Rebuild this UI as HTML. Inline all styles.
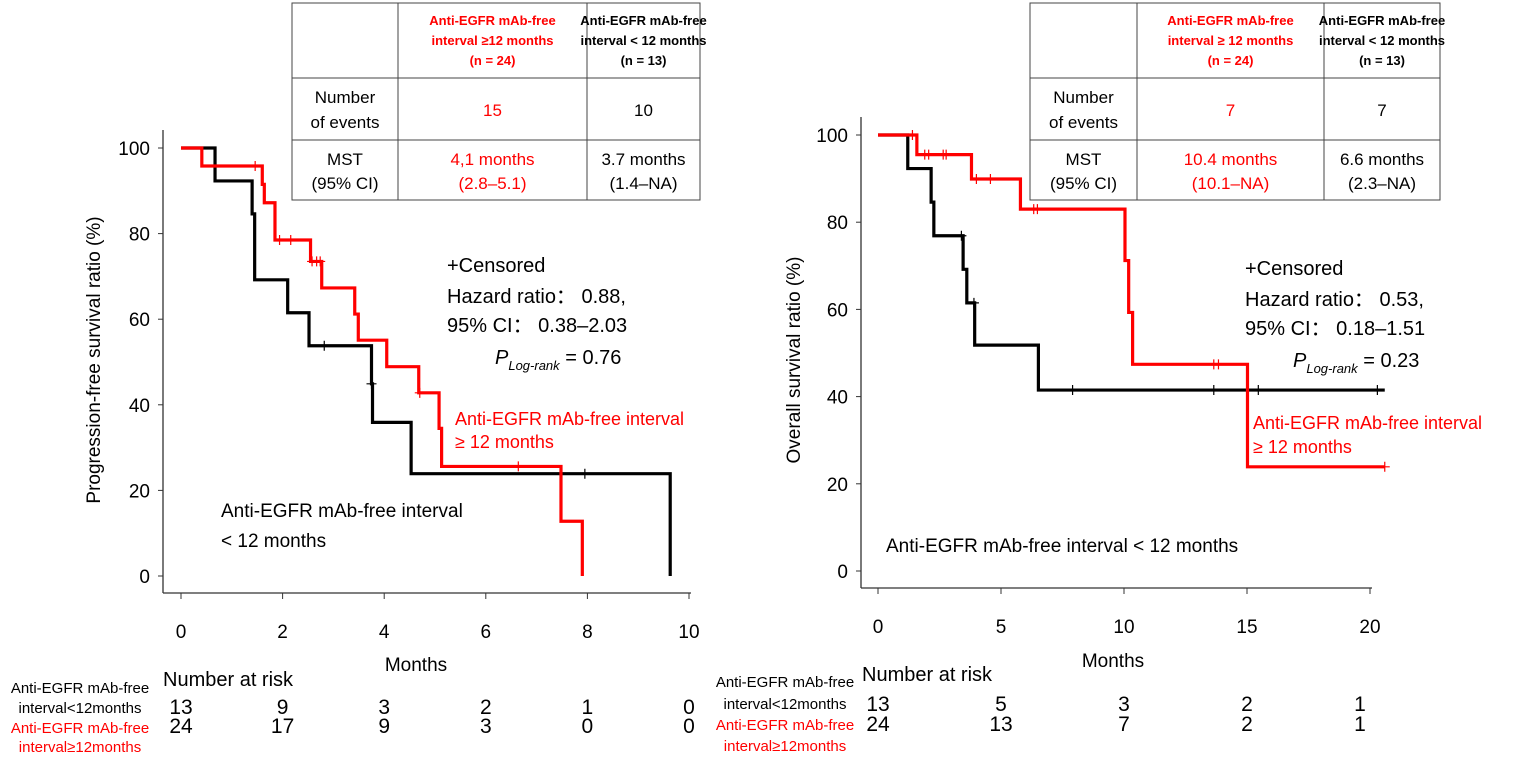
<!DOCTYPE html>
<html><head><meta charset="utf-8"><style>
body{margin:0;background:#fff;width:1524px;height:761px;overflow:hidden;font-family:"Liberation Sans",sans-serif}
svg text{font-family:"Liberation Sans",sans-serif}
</style></head><body>
<svg id="c" width="1524" height="761" xmlns="http://www.w3.org/2000/svg"></svg>
<script>
// ---- Left panel (PFS) data ----
const pfsBlackT=[0,0.67,1.40,1.45,2.10,2.52,3.75,3.77,4.53,9.63];
const pfsBlackS=[100,92.3,84.6,69.2,61.5,53.8,44.9,35.9,23.9,0];
const pfsBlackCensT=[2.82,3.75,7.95];
const pfsRedT=[0,0.41,1.60,1.64,1.85,2.55,2.77,3.42,3.49,4.05,4.68,5.08,5.13,7.48,7.90];
const pfsRedS=[100,95.8,91.5,87.2,78.5,73.5,67.3,61.2,55.1,48.9,42.8,34.5,25.6,12.8,0];
const pfsRedCensT=[1.46,1.94,2.16,2.58,2.67,2.74,4.70,6.64];
const pfsTicksX=[0,2,4,6,8,10];
const ticksY=[0,20,40,60,80,100];
const pfsRiskBlack=[13,9,3,2,1,0];
const pfsRiskRed=[24,17,9,3,0,0];
// ---- Right panel (OS) data ----
const osBlackT=[0,1.21,2.16,2.27,3.46,3.61,3.93,6.52,20.6];
const osBlackS=[100,92.3,84.6,76.9,69.2,61.5,51.8,41.5,41.5];
const osBlackCensT=[3.39,3.90,7.91,13.65,15.46,20.3];
const osRedT=[0,1.58,3.80,5.79,10.04,10.19,10.35,15.02,20.6];
const osRedS=[100,95.5,89.9,83.0,71.2,59.3,47.4,23.9,23.9];
const osRedCensT=[1.40,1.90,2.06,2.65,2.77,4.0,4.57,6.33,6.48,13.65,13.84,20.6];
const osTicksX=[0,5,10,15,20];
const osRiskBlack=[13,5,3,2,1];
const osRiskRed=[24,13,7,2,1];

const svg=document.getElementById('c');
const NS='http://www.w3.org/2000/svg';
function mk(tag,attrs,txt){const e=document.createElementNS(NS,tag);for(const k in attrs)e.setAttribute(k,attrs[k]);if(txt!==undefined)e.textContent=txt;svg.appendChild(e);return e;}
function txt(x,y,s,size,fill,name,anchor,extra){const e=mk('text',Object.assign({x:x,y:y,'font-size':size,fill:fill||'#000','text-anchor':anchor||'start'},extra||{}),s);


return e;}
function survAt(T,S,t){let v=S[0];for(let i=0;i<T.length;i++){if(T[i]<=t+1e-9)v=S[i];}return v;}

function panel(p){
  const X=t=>p.x0+t*p.xs, Y=s=>p.y0-s*(p.y0-p.y100)/100;
  let a=mk('line',{x1:p.ax,y1:p.y100-18,x2:p.ax,y2:p.axy,stroke:'#333','stroke-width':1.3});
  
  
  a=mk('line',{x1:p.ax,y1:p.axy,x2:X(p.ticksX[p.ticksX.length-1])+2,y2:p.axy,stroke:'#333','stroke-width':1.3});
  
  
  ticksY.forEach(v=>{const t=mk('line',{x1:p.ax-5,y1:Y(v),x2:p.ax,y2:Y(v),stroke:'#333'});
    
    
    txt(p.ax-13,Y(v)+7,String(v),19,'#000','y-tick-label','end');});
  p.ticksX.forEach(v=>{const t=mk('line',{x1:X(v),y1:p.axy,x2:X(v),y2:p.axy+6,stroke:'#333'});
    
    
    txt(X(v),p.axy+45,String(v),19,'#000','x-tick-label','middle');});
  function curve(T,S,C,col,name){
    let d='M'+X(T[0])+','+Y(S[0]);
    for(let i=1;i<T.length;i++){d+=' H'+X(T[i])+' V'+Y(S[i]);}
    const e=mk('path',{d:d,fill:'none',stroke:col,'stroke-width':3.2});
    
    
    C.forEach(t=>{const s=survAt(T,S,t);const m=mk('path',{d:'M'+(X(t)-5)+','+Y(s)+' h10 M'+X(t)+','+(Y(s)-5)+' v10',stroke:col,'stroke-width':1.2});
      
      });
  }
  curve(p.bT,p.bS,p.bC,'#000',p.id+'-curve-lt12');
  curve(p.rT,p.rS,p.rC,'#f00',p.id+'-curve-ge12');
}

panel({id:'pfs',x0:181,xs:50.8,y0:576,y100:148,ax:163,axy:593,ticksX:pfsTicksX,bT:pfsBlackT,bS:pfsBlackS,bC:pfsBlackCensT,rT:pfsRedT,rS:pfsRedS,rC:pfsRedCensT});
panel({id:'os',x0:878,xs:24.6,y0:571,y100:135,ax:861,axy:588,ticksX:osTicksX,bT:osBlackT,bS:osBlackS,bC:osBlackCensT,rT:osRedT,rS:osRedS,rC:osRedCensT});

txt(0,0,'Progression-free survival ratio (%)',19,'#000','y-axis-title-pfs','middle',{transform:'translate(100,360) rotate(-90)'});
txt(0,0,'Overall survival ratio (%)',19,'#000','y-axis-title-os','middle',{transform:'translate(800,360) rotate(-90)'});
txt(416,671,'Months',19,'#000','x-axis-title-pfs','middle');
txt(1113,667,'Months',19,'#000','x-axis-title-os','middle');

function stats(x,y,hr,ci,p,name){
  txt(x,y,'+Censored',20,'#000',name+'-censored-note');
  txt(x,y+31,'Hazard ratio\uFF1A '+hr,20,'#000',name+'-hazard-ratio');
  txt(x,y+60,'95% CI\uFF1A '+ci,20,'#000',name+'-ci');
  const t=txt(x+48,y+92,'',20,'#000',name+'-p-value');
  const a=document.createElementNS(NS,'tspan');a.setAttribute('font-style','italic');a.textContent='P';t.appendChild(a);
  const b=document.createElementNS(NS,'tspan');b.setAttribute('font-style','italic');b.setAttribute('font-size','13');b.setAttribute('dy','6');b.textContent='Log-rank';t.appendChild(b);
  const c=document.createElementNS(NS,'tspan');c.setAttribute('dy','-6');c.textContent=' = '+p;t.appendChild(c);
}
stats(447,272,'0.88,','0.38\u20132.03','0.76','pfs');
stats(1245,275,'0.53,','0.18\u20131.51','0.23','os');

txt(455,425,'Anti-EGFR  mAb-free  interval',18,'#f00','pfs-label-ge12');
txt(455,448,'\u2265 12 months',18,'#f00','pfs-label-ge12-line2');
txt(221,517,'Anti-EGFR mAb-free interval',19,'#000','pfs-label-lt12');
txt(221,547,'< 12 months',19,'#000','pfs-label-lt12-line2');
txt(1253,429,'Anti-EGFR  mAb-free  interval',18,'#f00','os-label-ge12');
txt(1253,453,'\u2265 12 months',18,'#f00','os-label-ge12-line2');
txt(886,552,'Anti-EGFR mAb-free interval < 12 months',19,'#000','os-label-lt12');

function table(x,cols,name,ev1,ev2,m1,c1,m2,c2){
  const top=3,r1=78,r2=140,bot=200;
  const w=cols[cols.length-1]-x;
  const g=mk('rect',{x:x,y:top,width:w,height:bot-top,fill:'#fff',stroke:'#444','stroke-width':1});
  
  
  [r1,r2].forEach(y=>{const l=mk('line',{x1:x,y1:y,x2:x+w,y2:y,stroke:'#444'});});
  cols.slice(0,-1).forEach(c=>{const l=mk('line',{x1:c,y1:top,x2:c,y2:bot,stroke:'#444'});});
  const cx1=(cols[0]+cols[1])/2,cx2=(cols[1]+cols[2])/2,cx0=(x+cols[0])/2;
  [['Anti-EGFR mAb-free',25],['interval '+(name.startsWith('os')?'\u2265 ':'\u2265')+'12 months',45],['(n = 24)',65]].forEach(a=>txt(cx1,a[1],a[0],13,'#f00','table-header-ge12','middle',{'font-weight':'bold'}));
  [['Anti-EGFR mAb-free',25],['interval < 12 months',45],['(n = 13)',65]].forEach(a=>txt(cx2,a[1],a[0],13,'#000','table-header-lt12','middle',{'font-weight':'bold'}));
  txt(cx0,103,'Number',17,'#000','table-row-label-events','middle');
  txt(cx0,128,'of events',17,'#000','table-row-label-events','middle');
  txt(cx1,116,ev1,17,'#f00','table-events-ge12','middle');
  txt(cx2,116,ev2,17,'#000','table-events-lt12','middle');
  txt(cx0,165,'MST',17,'#000','table-row-label-mst','middle');
  txt(cx0,189,'(95% CI)',17,'#000','table-row-label-mst','middle');
  txt(cx1,165,m1,17,'#f00','table-mst-ge12','middle');
  txt(cx1,189,c1,17,'#f00','table-ci-ge12','middle');
  txt(cx2,165,m2,17,'#000','table-mst-lt12','middle');
  txt(cx2,189,c2,17,'#000','table-ci-lt12','middle');
}
table(292,[398,587,700],'pfs-summary-table','15','10','4,1 months','(2.8\u20135.1)','3.7 months','(1.4\u2013NA)');
table(1030,[1137,1324,1440],'os-summary-table','7','7','10.4 months','(10.1\u2013NA)','6.6 months','(2.3\u2013NA)');

txt(163,686,'Number at risk',20,'#000','pfs-number-at-risk-title');
txt(862,681,'Number at risk',20,'#000','os-number-at-risk-title');
function lab(x,y,s,col,name){txt(x,y,s,15,col,name,'middle');}
lab(80,693,'Anti-EGFR mAb-free','#000','pfs-risk-label-lt12');
lab(80,713,'interval<12months','#000','pfs-risk-label-lt12');
lab(80,733,'Anti-EGFR mAb-free','#f00','pfs-risk-label-ge12');
lab(80,752,'interval\u226512months','#f00','pfs-risk-label-ge12');
lab(785,687,'Anti-EGFR mAb-free','#000','os-risk-label-lt12');
lab(785,709,'interval<12months','#000','os-risk-label-lt12');
lab(785,730,'Anti-EGFR mAb-free','#f00','os-risk-label-ge12');
lab(785,751,'interval\u226512months','#f00','os-risk-label-ge12');
pfsTicksX.forEach((t,i)=>{
  txt(181+t*50.8,714,String(pfsRiskBlack[i]),21,'#000','pfs-risk-lt12','middle');
  txt(181+t*50.8,733,String(pfsRiskRed[i]),21,'#000','pfs-risk-ge12','middle');
});
osTicksX.forEach((t,i)=>{
  const x=i===4?1360:878+t*24.6;
  txt(x,711,String(osRiskBlack[i]),21,'#000','os-risk-lt12','middle');
  txt(x,731,String(osRiskRed[i]),21,'#000','os-risk-ge12','middle');
});
</script>
</body></html>
